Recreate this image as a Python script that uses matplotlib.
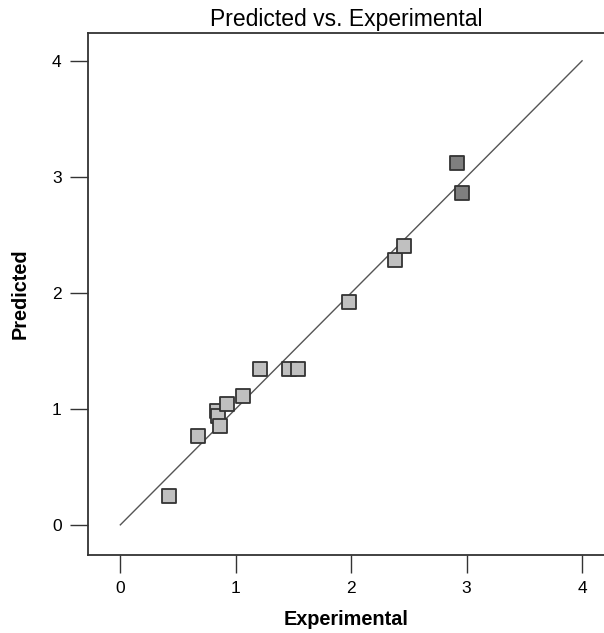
import matplotlib.pyplot as plt

plt.rcParams['font.family'] = ['Liberation Sans', 'DejaVu Sans']

# experimental vs predicted values
experimental = [0.42, 0.67, 0.84, 0.85, 0.86, 0.92, 1.06, 1.21, 1.46, 1.54, 1.98, 2.38, 2.46]
predicted = [0.25, 0.77, 0.98, 0.94, 0.85, 1.04, 1.11, 1.34, 1.34, 1.34, 1.92, 2.28, 2.40]
# the two darker points at the top
experimental_hi = [2.92, 2.96]
predicted_hi = [3.12, 2.86]
ticks = [0, 1, 2, 3, 4]

fig = plt.figure(figsize=(6.04, 6.33), dpi=100)
ax = fig.add_axes([0.1457, 0.1232, 0.8543, 0.8247])

ax.plot([0, 4], [0, 4], color='#555555', lw=1.0, zorder=1)
ax.scatter(experimental, predicted, marker='s', s=95, facecolor='#c0c0c0',
           edgecolor='#333333', linewidth=1.3, zorder=2)
ax.scatter(experimental_hi, predicted_hi, marker='s', s=95, facecolor='#7f7f7f',
           edgecolor='#333333', linewidth=1.3, zorder=2)

ax.set_xlim(-0.28, 4.19)
ax.set_ylim(-0.26, 4.24)
ax.set_xticks(ticks)
ax.set_yticks(ticks)
ax.tick_params(direction='out', length=13, width=1, color='#333333',
               labelsize=12.5, pad=6)

ax.spines['right'].set_visible(False)
for s in ['left', 'top', 'bottom']:
    ax.spines[s].set_color('#333333')
    ax.spines[s].set_linewidth(1.3)

ax.set_title('Predicted vs. Experimental', fontsize=16.5, pad=5)
ax.set_xlabel('Experimental', fontsize=14.3, fontweight='bold', labelpad=10)
ax.set_ylabel('Predicted', fontsize=14.3, fontweight='bold', labelpad=16)

fig.savefig('out.png', dpi=100)
